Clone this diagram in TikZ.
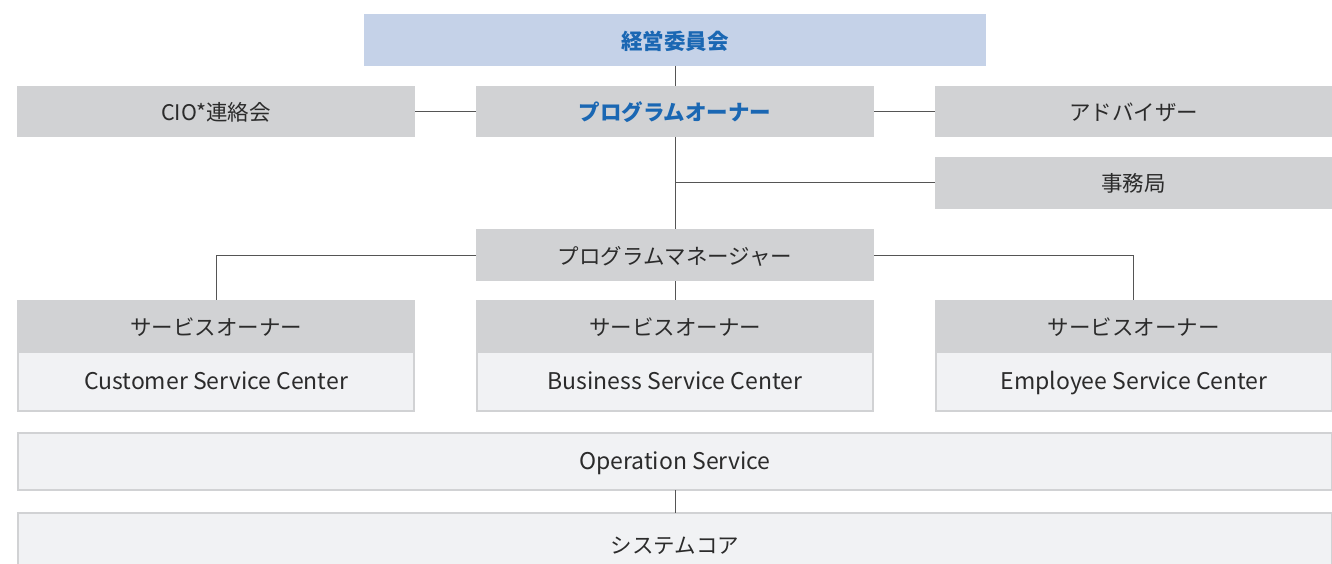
\documentclass[tikz,border=0pt]{standalone}
\usepackage{fontspec}
\setmainfont{Noto Sans CJK JP}
\definecolor{boxgray}{HTML}{D1D2D4}
\definecolor{boxlight}{HTML}{F1F2F4}
\definecolor{boxblue}{HTML}{C5D2E8}
\definecolor{txtblue}{HTML}{1A67B3}
\definecolor{txtdark}{HTML}{2B2B2B}
\definecolor{linegray}{HTML}{555555}
\newcommand{\jpf}{\fontsize{21.5}{25}\selectfont}
\newcommand{\enf}{\fontsize{23}{27}\selectfont}
\tikzset{
  base/.style={inner sep=0pt, outer sep=0pt, text=txtdark, font=\jpf, anchor=north west, text height=20pt, text depth=2pt},
  graybox/.style={base, fill=boxgray},
  lightbox/.style={base, fill=boxlight, draw=boxgray, line width=2pt, font=\enf, text height=18pt, text depth=2pt},
  bluebox/.style={base, fill=boxblue, text=txtblue, font=\jpf\bfseries, text height=22pt, text depth=2pt},
  conn/.style={draw=linegray, line width=1pt}
}
\begin{document}
\begin{tikzpicture}[x=1pt,y=-1pt]
\useasboundingbox[fill=white] (0,0) rectangle (1332,564);
% boxes
\node[bluebox, minimum width=622pt, minimum height=52pt] (keiei) at (364,14) {経営委員会};
\node[graybox, minimum width=398pt, minimum height=51pt] (cio) at (17,86) {CIO*連絡会};
\node[graybox, minimum width=398pt, minimum height=51pt, text=txtblue, font=\jpf\bfseries] (po) at (476,86) {プログラムオーナー};
\node[graybox, minimum width=397pt, minimum height=51pt] (adv) at (935,86) {アドバイザー};
\node[graybox, minimum width=397pt, minimum height=52pt] (jim) at (935,157) {事務局};
\node[graybox, minimum width=398pt, minimum height=52pt] (pm) at (476,229) {プログラムマネージャー};
% service owners
\node[lightbox, minimum width=396pt, minimum height=59pt] (c1) at (18,352) {Customer Service Center};
\node[graybox, minimum width=398pt, minimum height=52pt] (s1) at (17,300) {サービスオーナー};
\node[lightbox, minimum width=396pt, minimum height=59pt] (c2) at (477,352) {Business Service Center};
\node[graybox, minimum width=398pt, minimum height=52pt] (s2) at (476,300) {サービスオーナー};
\node[lightbox, minimum width=396pt, minimum height=59pt] (c3) at (936,352) {Employee Service Center};
\node[graybox, minimum width=397pt, minimum height=52pt] (s3) at (935,300) {サービスオーナー};
\node[lightbox, minimum width=1314pt, minimum height=57pt] (ops) at (18,433) {Operation Service};
\node[lightbox, font=\jpf, text height=20pt, minimum width=1314pt, minimum height=62pt] (core) at (18,513) {システムコア};
% connectors
\draw[conn] (keiei.south) -- (po.north);
\draw[conn] (cio.east) -- (po.west);
\draw[conn] (po.east) -- (adv.west);
\draw[conn] (po.south) -- (pm.north);
\coordinate (br) at (676,183);
\draw[conn] (br) -- (jim.west);
\draw[conn] (pm.west) -| (s1.north);
\draw[conn] (pm.east) -| (s3.north);
\draw[conn] (pm.south) -- (s2.north);
\draw[conn] (ops.south) -- (core.north);
\end{tikzpicture}
\end{document}
